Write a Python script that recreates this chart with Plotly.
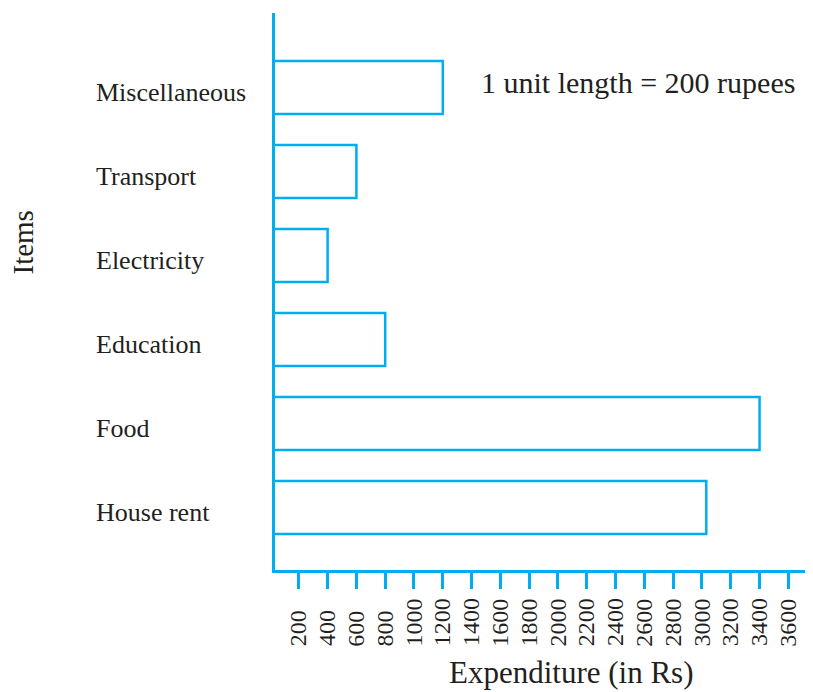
import plotly.graph_objects as go

# Data (bottom to top)
items = ["House rent", "Food", "Education", "Electricity", "Transport", "Miscellaneous"]
expenditure = [3030, 3400, 800, 400, 600, 1200]
tick_values = [200, 400, 600, 800, 1000, 1200, 1400, 1600, 1800, 2000,
               2200, 2400, 2600, 2800, 3000, 3200, 3400, 3600]
tick_labels = [str(v) for v in tick_values]

CYAN = "#00AEEF"
TXT = "#231F20"
FONT = "Liberation Serif, Times New Roman, Times, serif"

OFF = 8  # page body margin
WIN_W, WIN_H = 813, 692
W, H = WIN_W - OFF, WIN_H - OFF
# plot area in window pixels
L, R, T, B = 274.5, 813, 13, 570.5


def px2paper_x(px):
    return (px - L) / (R - L)


def px2paper_y(py):
    return (B - py) / (B - T)


fig = go.Figure()
fig.add_trace(go.Bar(
    x=expenditure, y=items, orientation="h", width=0.63,
    marker=dict(color="white", line=dict(color=CYAN, width=2.5)),
    hoverinfo="x+y", showlegend=False,
))

annotations = []
for it in items:
    annotations.append(dict(
        x=px2paper_x(93), xref="paper", y=it, yref="y", text=it,
        xanchor="left", yanchor="middle", showarrow=False, yshift=-5,
        font=dict(family=FONT, size=26, color=TXT)))
for v, lab in zip(tick_values, tick_labels):
    annotations.append(dict(
        x=v, xref="x", y=px2paper_y(649), yref="paper", text=lab,
        textangle=-90, xanchor="center", yanchor="bottom", showarrow=False,
        font=dict(family=FONT, size=24, color=TXT)))
annotations.append(dict(
    x=px2paper_x(571), xref="paper", y=px2paper_y(673), yref="paper",
    text="Expenditure (in Rs)", showarrow=False, xanchor="center", yanchor="middle",
    font=dict(family=FONT, size=31, color=TXT)))
annotations.append(dict(
    x=px2paper_x(22), xref="paper", y=px2paper_y(243), yref="paper",
    text="Items", textangle=-90, showarrow=False, xanchor="center", yanchor="middle",
    font=dict(family=FONT, size=29, color=TXT)))
annotations.append(dict(
    x=px2paper_x(479), xref="paper", y=px2paper_y(83), yref="paper",
    text="1 unit length = 200 rupees", showarrow=False, xanchor="left", yanchor="middle",
    font=dict(family=FONT, size=30, color=TXT)))

zero_px = 269.5
scale = 0.14412  # px per rupee
x0 = (L - zero_px) / scale
fig.update_layout(
    width=W, height=H,
    margin=dict(l=L - OFF, r=WIN_W - R, t=T - OFF, b=WIN_H - B, pad=0),
    paper_bgcolor="white", plot_bgcolor="white",
    xaxis=dict(range=[x0, x0 + (R - L) / scale], tickvals=tick_values,
               showticklabels=False, ticks="outside", ticklen=16, tickwidth=3,
               tickcolor=CYAN, showline=True, linecolor=CYAN, linewidth=3,
               showgrid=False, zeroline=False, fixedrange=True),
    yaxis=dict(type="category", categoryorder="array", categoryarray=items,
               range=[-0.744, 5.887], showticklabels=False, ticks="",
               showline=True, linecolor=CYAN, linewidth=3,
               showgrid=False, zeroline=False, fixedrange=True),
    annotations=annotations,
)

fig.write_html("out.html")
